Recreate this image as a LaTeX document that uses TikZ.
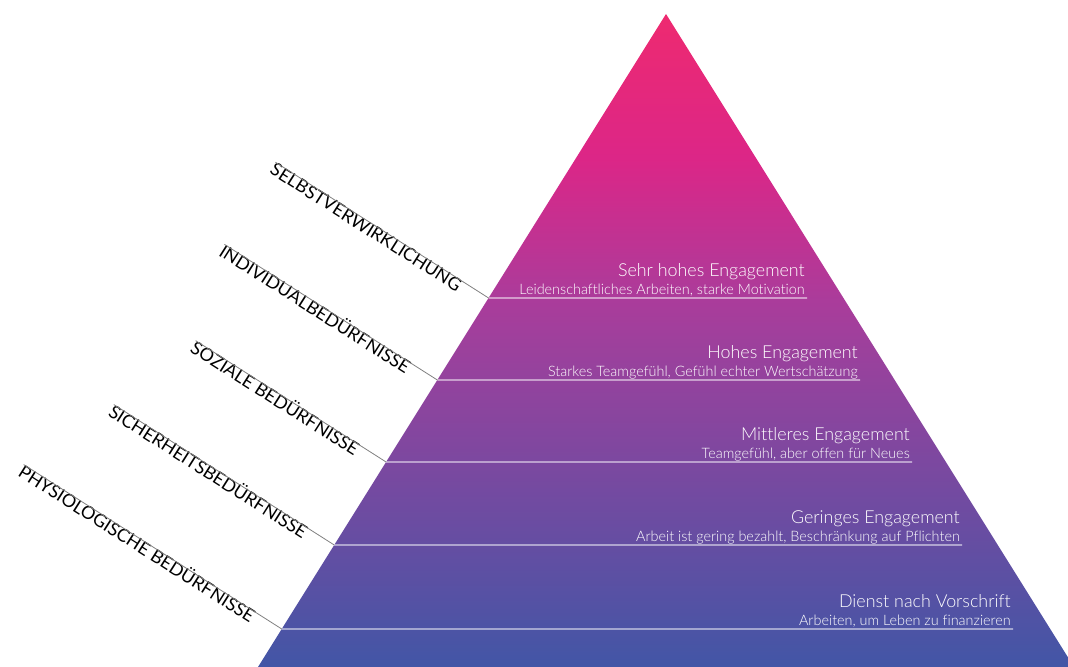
\documentclass[tikz,border=0pt]{standalone}
\usepackage{fontspec}
\setmainfont{Lato}[Ligatures=NoCommon]
\newfontfamily\duenn{Lato Light}[Ligatures=NoCommon]
\usetikzlibrary{calc}

\definecolor{pyrtop}{RGB}{238,42,112}
\definecolor{pyrpink}{RGB}{220,38,135}
\definecolor{pyrlila}{RGB}{170,60,155}
\definecolor{pyrmid}{RGB}{158,64,156}
\definecolor{pyrbot}{RGB}{66,86,166}
\pgfdeclareverticalshading{pyramide}{100bp}{color(0bp)=(pyrbot); color(25bp)=(pyrbot);
  color(50bp)=(pyrmid); color(53bp)=(pyrlila); color(64bp)=(pyrpink); color(75bp)=(pyrtop); color(100bp)=(pyrtop)}

\tikzset{
  stufe/.style={draw=white, draw opacity=.75, line width=1pt},
  titel/.style={text=white, anchor=base east, inner sep=0pt, font=\duenn\fontsize{13.4}{15}\selectfont},
  untertitel/.style={text=white, anchor=base east, inner sep=0pt, font=\duenn\fontsize{10.8}{12}\selectfont},
  beduerfnis/.style={rotate=-32.5, anchor=north east, inner xsep=0pt, inner ysep=2pt,
    text height=.72em, text depth=0pt, font=\fontsize{13.5}{15}\selectfont},
  leitung/.style={draw=black!50, line width=.6pt}
}

\begin{document}
\begin{tikzpicture}[x=.75pt,y=-.75pt]
\useasboundingbox (0,0) rectangle (1068,667);
\coordinate (spitze) at (666,14);
\coordinate (links) at (258,667);
\coordinate (rechts) at (1074,667);

\begin{scope}
\clip (0,0) rectangle (1068,667);
\shade[shading=pyramide] (spitze) -- (rechts) -- (links) -- cycle;
\end{scope}

% stufen: hoehe / rechtes ende / titel / untertitel / beduerfnis
\foreach \y/\xr/\titel/\sub/\bed [count=\i] in {
  298/807/Sehr hohes Engagement/{Leidenschaftliches Arbeiten, starke Motivation}/SELBSTVERWIRKLICHUNG,
  380/860/Hohes Engagement/{Starkes Teamgefühl, Gefühl echter Wertschätzung}/INDIVIDUALBEDÜRFNISSE,
  462/912/Mittleres Engagement/{Teamgefühl, aber offen für Neues}/SOZIALE BEDÜRFNISSE,
  545/962/Geringes Engagement/{Arbeit ist gering bezahlt, Beschränkung auf Pflichten}/SICHERHEITSBEDÜRFNISSE,
  629/1013/Dienst nach Vorschrift/{Arbeiten, um Leben zu finanzieren}/PHYSIOLOGISCHE BEDÜRFNISSE}{
  \coordinate (L\i) at ($(spitze)!{(\y-14)/653}!(links)$);
  \coordinate (R\i) at (\xr,\y);
  \draw[stufe] (L\i) -- (R\i);
  \node[titel] (t\i) at (\xr-2,\y-21.5) {\titel};
  \node[untertitel] (u\i) at (\xr-2,\y-3.5) {\sub};
  \node[beduerfnis] (b\i) at ($(L\i)+(212.5:30)$) {\bed};
  \draw[leitung] (b\i.north west) -- (L\i);
}
\end{tikzpicture}
\end{document}
